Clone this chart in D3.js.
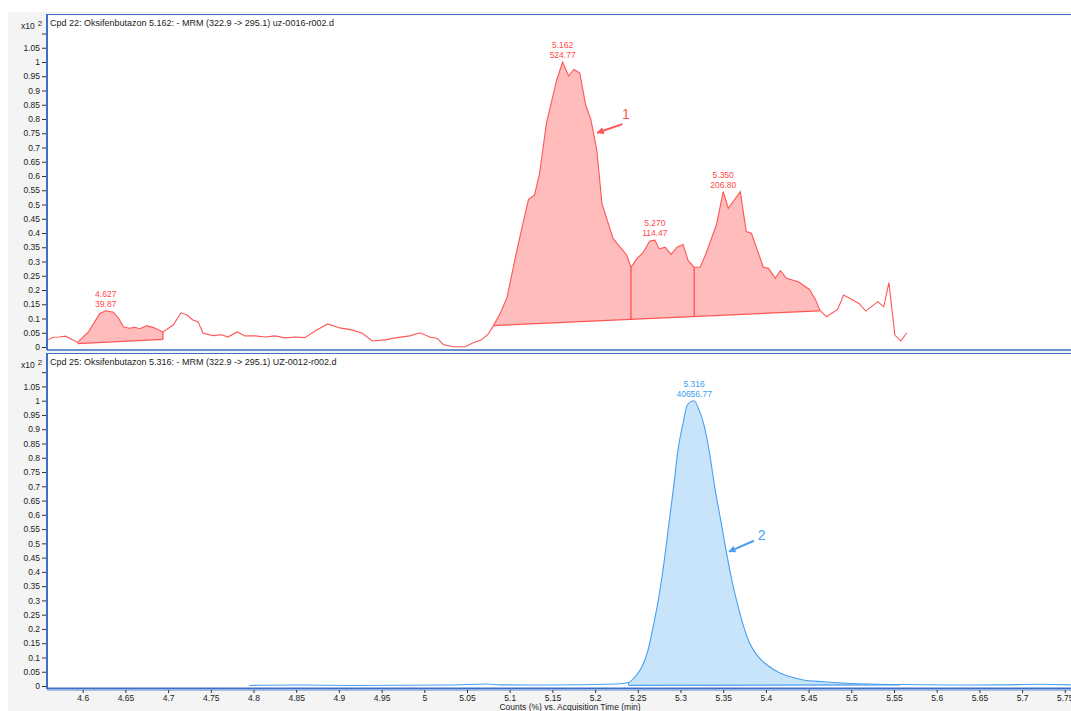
<!DOCTYPE html>
<html><head><meta charset="utf-8">
<script src="https://cdn.jsdelivr.net/npm/d3@7"></script>
<style>body{margin:0;background:#fff}svg{display:block}text{font-family:"Liberation Sans",Arial,sans-serif}</style>
</head><body><svg id="c" width="1071" height="711"></svg>
<script>
// ---------- DATA ----------
const topTimes = [4.560,4.565,4.573,4.580,4.594,4.607,4.620,4.627,4.636,4.642,4.648,4.655,4.661,4.667,4.675,4.683,4.694,4.706,4.715,4.722,4.729,4.735,4.741,4.753,4.763,4.770,4.781,4.790,4.802,4.814,4.825,4.837,4.849,4.860,4.872,4.887,4.901,4.915,4.927,4.939,4.954,4.966,4.983,4.995,5.007,5.015,5.022,5.034,5.048,5.056,5.067,5.075,5.081,5.089,5.097,5.102,5.108,5.116,5.122,5.129,5.135,5.143,5.155,5.162,5.169,5.175,5.182,5.189,5.195,5.202,5.208,5.221,5.231,5.237,5.242,5.249,5.256,5.264,5.270,5.275,5.282,5.289,5.296,5.303,5.309,5.316,5.323,5.330,5.342,5.350,5.356,5.370,5.377,5.383,5.397,5.403,5.411,5.417,5.424,5.438,5.451,5.458,5.463,5.471,5.484,5.491,5.509,5.517,5.531,5.538,5.544,5.551,5.558,5.565];
const topValues = [0.025,0.034,0.035,0.038,0.016,0.054,0.118,0.127,0.122,0.101,0.070,0.066,0.069,0.064,0.075,0.068,0.053,0.077,0.120,0.112,0.095,0.089,0.048,0.040,0.043,0.035,0.053,0.039,0.039,0.035,0.039,0.032,0.035,0.033,0.056,0.081,0.067,0.060,0.049,0.021,0.025,0.032,0.039,0.050,0.034,0.031,0.009,0.001,0.001,0.013,0.025,0.046,0.075,0.118,0.176,0.247,0.334,0.440,0.518,0.533,0.609,0.785,0.937,1.000,0.951,0.974,0.962,0.849,0.799,0.691,0.504,0.381,0.344,0.323,0.280,0.310,0.331,0.372,0.375,0.344,0.350,0.325,0.350,0.360,0.303,0.280,0.280,0.329,0.428,0.545,0.487,0.545,0.405,0.399,0.280,0.276,0.241,0.268,0.241,0.229,0.202,0.167,0.130,0.106,0.132,0.182,0.153,0.126,0.159,0.141,0.226,0.042,0.021,0.050];

// integrated segments (start/end times) and their baselines
const topSegStart = [4.594, 5.081, 5.242, 5.316];
const topSegEnd   = [4.694, 5.242, 5.316, 5.463];
const topBaseT0 = [4.594, 5.081];   // baseline lines (start time)
const topBaseT1 = [4.694, 5.463];   // baseline lines (end time)
const topBaseV0 = [0.012, 0.075];
const topBaseV1 = [0.027, 0.127];

const topLabelTime = [4.627, 5.162, 5.270, 5.350];
const topLabelText = ["4.627", "5.162", "5.270", "5.350"];
const topLabelArea = ["39.87", "524.77", "114.47", "206.80"];
const topLabelApex = [0.127, 1.000, 0.375, 0.545];

const botTimes = [4.795,4.854,4.913,5.030,5.073,5.089,5.147,5.225,5.239,5.247,5.255,5.262,5.268,5.274,5.280,5.286,5.292,5.297,5.303,5.308,5.316,5.321,5.328,5.334,5.340,5.347,5.354,5.360,5.367,5.374,5.381,5.391,5.403,5.417,5.428,5.444,5.467,5.499,5.557,5.616,5.674,5.721,5.757];
const botValues = [0.002,0.0035,0.002,0.0035,0.007,0.004,0.0035,0.007,0.012,0.033,0.068,0.126,0.208,0.301,0.418,0.558,0.699,0.827,0.921,0.985,1.000,0.973,0.909,0.816,0.699,0.582,0.465,0.372,0.284,0.208,0.150,0.103,0.070,0.045,0.033,0.021,0.015,0.009,0.005,0.0035,0.004,0.006,0.004];
const botSegStart = [5.239];
const botSegEnd   = [5.557];
const botBaseV0 = [0.002];
const botBaseV1 = [0.004];
const botLabelTime = [5.316];
const botLabelArea = ["40656.77"];
const botLabelApex = [1.000];

const xTicks = [4.6,4.65,4.7,4.75,4.8,4.85,4.9,4.95,5,5.05,5.1,5.15,5.2,5.25,5.3,5.35,5.4,5.45,5.5,5.55,5.6,5.65,5.7,5.75];
const yTicks = [0,0.05,0.1,0.15,0.2,0.25,0.3,0.35,0.4,0.45,0.5,0.55,0.6,0.65,0.7,0.75,0.8,0.85,0.9,0.95,1,1.05,1.1];
const titles = ["Cpd 22: Oksifenbutazon 5.162: - MRM (322.9 -> 295.1) uz-0016-r002.d",
                "Cpd 25: Oksifenbutazon 5.316: - MRM (322.9 -> 295.1) UZ-0012-r002.d"];
const xTitle = "Counts (%) vs. Acquisition Time (min)";
// annotation arrows: [tailT, tailV, tipT, tipV, textT, textV]
const arrow1 = [5.232, 0.782, 5.2026, 0.752, 5.236, 0.818];
const arrow2 = [5.386, 0.509, 5.3568, 0.471, 5.395, 0.529];

// ---------- DRAW ----------
const svg = d3.select("#c");
const W = 1071, H = 711;
const AX = "#3d6fc6";
const RED = "#ff5555", RED_FILL = "#ffbcbc", RED_TXT = "#ff4a4a";
const BLUE = "#4a9ff0", BLUE_FILL = "#c7e4fb", BLUE_TXT = "#3d9cf3";
const L = 47, R = 1071;

svg.append("rect").attr("x",0).attr("y",0).attr("width",W).attr("height",H).attr("fill","#fff");
svg.append("rect").attr("x",8).attr("y",12).attr("width",W-8).attr("height",H-12).attr("fill","#f4f4f4");

const x = d3.scaleLinear().domain([4.6, 5.75]).range([82.7, 82.7 + 1.15*854]);

const panels = [
  {top:14, bottom:350, y0:347, y1:62, times:topTimes, vals:topValues, color:RED, fill:RED_FILL, txt:RED_TXT, title:titles[0]},
  {top:353, bottom:689, y0:686, y1:400.7, times:botTimes, vals:botValues, color:BLUE, fill:BLUE_FILL, txt:BLUE_TXT, title:titles[1]}
];

const defs = svg.append("defs");
[["ah1",RED],["ah2",BLUE]].forEach(([id,c])=>{
  defs.append("marker").attr("id",id).attr("viewBox","0 0 10 10").attr("refX",9).attr("refY",5)
    .attr("markerWidth",9).attr("markerHeight",7).attr("markerUnits","userSpaceOnUse").attr("orient","auto")
    .append("path").attr("d","M0,0L10,5L0,10z").attr("fill",c);
});

panels.forEach((p,i)=>{
  const y = d3.scaleLinear().domain([0,1]).range([p.y0,p.y1]);
  p.y = y;
  svg.append("rect").attr("x",L).attr("y",p.top).attr("width",R-L).attr("height",p.bottom-p.top).attr("fill","#fff");
  defs.append("clipPath").attr("id","clip"+i).append("rect")
    .attr("x",L+1).attr("y",p.top).attr("width",R-L).attr("height",p.bottom-p.top-1);
  const g = svg.append("g").attr("clip-path",`url(#clip${i})`);
  const pts = p.times.map((t,k)=>[t,p.vals[k]]);

  const segS = i===0?topSegStart:botSegStart, segE = i===0?topSegEnd:botSegEnd;
  const bT0 = i===0?topBaseT0:botSegStart, bT1 = i===0?topBaseT1:botSegEnd;
  const bV0 = i===0?topBaseV0:botBaseV0, bV1 = i===0?topBaseV1:botBaseV1;
  const baseAt = t=>{
    for(let k=0;k<bT0.length;k++){ if(t>=bT0[k]-1e-6 && t<=bT1[k]+1e-6){ return bV0[k]+(bV1[k]-bV0[k])*(t-bT0[k])/(bT1[k]-bT0[k]); } }
    return 0;
  };
  // fills
  segS.forEach((s,k)=>{
    const e = segE[k];
    const seg = pts.filter(d=>d[0]>=s-1e-6 && d[0]<=e+1e-6);
    const area = d3.area().x(d=>x(d[0])).y1(d=>y(d[1])).y0(d=>y(baseAt(d[0])));
    g.append("path").attr("d",area(seg)).attr("fill",p.fill).attr("stroke","none");
  });
  // baselines
  bT0.forEach((t0,k)=>{
    g.append("line").attr("x1",x(t0)).attr("x2",x(bT1[k])).attr("y1",y(bV0[k])).attr("y2",y(bV1[k]))
      .attr("stroke",p.color).attr("stroke-width",1.2);
  });
  // drop lines at segment edges
  const edges = Array.from(new Set(segS.concat(segE)));
  edges.forEach(t=>{
    const idx = p.times.findIndex(v=>Math.abs(v-t)<1e-6);
    if(idx<0) return;
    const b = baseAt(t);
    if(p.vals[idx]-b < 0.01) return;
    g.append("line").attr("x1",x(t)).attr("x2",x(t)).attr("y1",y(p.vals[idx])).attr("y2",y(b))
      .attr("stroke",i===0?"#ff3030":p.color).attr("stroke-width",1);
  });
  // trace
  const line = d3.line().x(d=>x(d[0])).y(d=>y(d[1])).curve(i===0?d3.curveLinear:d3.curveMonotoneX);
  g.append("path").attr("d",line(pts)).attr("fill","none").attr("stroke",p.color).attr("stroke-width",1.1);

  // peak labels
  const lt = i===0?topLabelTime:botLabelTime, la = i===0?topLabelArea:botLabelArea, lv = i===0?topLabelApex:botLabelApex;
  const ltx = i===0?topLabelText:botLabelTime.map(d=>d.toFixed(3));
  lt.forEach((t,k)=>{
    const yy = y(lv[k]) - 4;
    g.append("text").attr("x",x(t)).attr("y",yy).attr("text-anchor","middle").attr("font-size",8.5).attr("fill",p.txt).text(la[k]);
    g.append("text").attr("x",x(t)).attr("y",yy-10).attr("text-anchor","middle").attr("font-size",8.5).attr("fill",p.txt).text(ltx[k]);
  });

  // annotation arrow
  const a = i===0?arrow1:arrow2;
  g.append("line").attr("x1",x(a[0])).attr("y1",y(a[1])).attr("x2",x(a[2])).attr("y2",y(a[3]))
    .attr("stroke",p.color).attr("stroke-width",2).attr("marker-end",`url(#ah${i+1})`);
  g.append("text").attr("x",x(a[4])).attr("y",y(a[5])).attr("dy","0.35em").attr("text-anchor","middle")
    .attr("font-size",14).attr("fill",p.color).text(i===0?"1":"2");

  // title
  svg.append("text").attr("x",50).attr("y",p.top+12).attr("font-size",9).attr("fill","#222").text(p.title);

  // y axis
  const yAxis = d3.axisLeft(y).tickValues(yTicks).tickSize(4).tickPadding(2)
    .tickFormat(d=> d>1.075 ? "" : String(+d.toFixed(2)));
  const ga = svg.append("g").attr("transform",`translate(${L-1},0)`).call(yAxis);
  ga.select(".domain").remove();
  ga.selectAll("line").attr("stroke","#333");
  ga.selectAll("text").attr("font-size",8.5).attr("fill","#222");
  svg.append("line").attr("x1",L).attr("x2",L).attr("y1",p.top).attr("y2",p.bottom).attr("stroke",AX).attr("stroke-width",2);
  svg.append("line").attr("x1",L).attr("x2",R).attr("y1",p.top+0.5).attr("y2",p.top+0.5).attr("stroke",AX).attr("stroke-width",1);
  // x10^2
  const mx = svg.append("text").attr("x",21).attr("y",p.top+15).attr("font-size",8.5).attr("fill","#222");
  mx.append("tspan").text("x10");
  mx.append("tspan").attr("dx",3).attr("dy",-3).attr("font-size",8).text("2");
});

// bottom axis lines
svg.append("line").attr("x1",L).attr("x2",R).attr("y1",350).attr("y2",350).attr("stroke",AX).attr("stroke-width",1.5);
svg.append("line").attr("x1",L).attr("x2",R).attr("y1",688.5).attr("y2",688.5).attr("stroke",AX).attr("stroke-width",2);
svg.append("line").attr("x1",L).attr("x2",R).attr("y1",690.5).attr("y2",690.5).attr("stroke","#a9c0e6").attr("stroke-width",1);

const xAxis = d3.axisBottom(x).tickValues(xTicks).tickSize(3).tickPadding(2).tickFormat(d=>String(+d.toFixed(2)));
const gx = svg.append("g").attr("transform","translate(0,690)").call(xAxis);
gx.select(".domain").remove();
gx.selectAll("line").attr("stroke","#333");
gx.selectAll("text").attr("font-size",8.5).attr("fill","#222");
svg.append("text").attr("x",570).attr("y",710).attr("text-anchor","middle").attr("font-size",8.5).attr("fill","#222").text(xTitle);
</script></body></html>
